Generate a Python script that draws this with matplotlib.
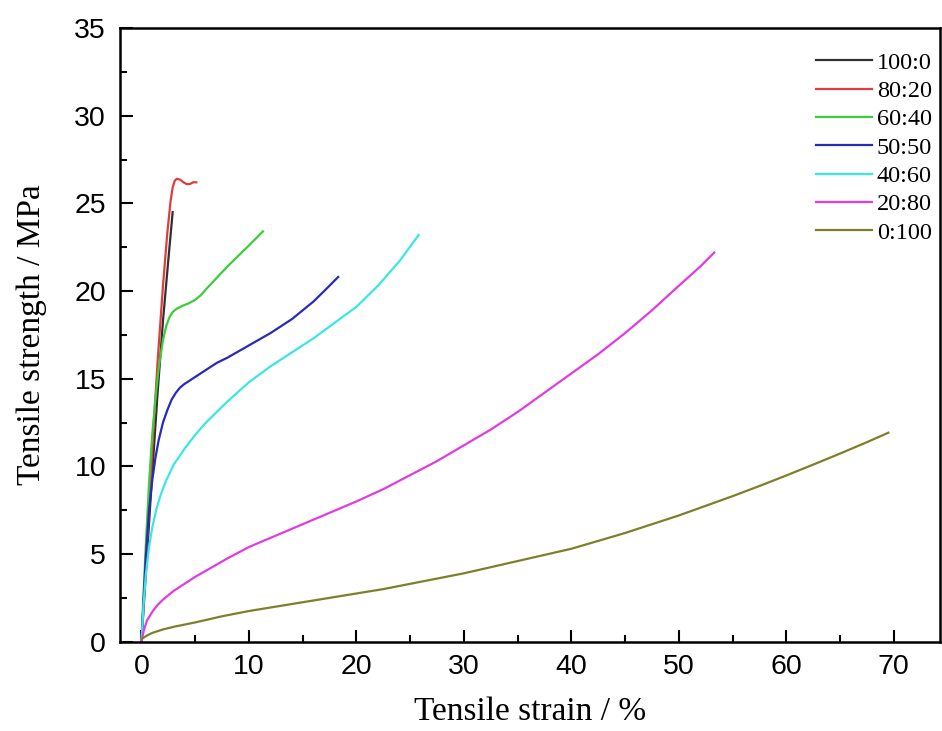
import matplotlib
matplotlib.use("Agg")
import matplotlib.pyplot as plt
from matplotlib.ticker import MultipleLocator

labels = ["100:0", "80:20", "60:40", "50:50", "40:60", "20:80", "0:100"]
colors = ["#303030", "#e03c3c", "#3ccc3c", "#2a2ab8", "#3ce6e6", "#e03ce0", "#7f7f2a"]

x_100_0 = [0, 0.5, 1, 1.5, 2, 2.5, 2.9]
y_100_0 = [0, 4.8, 9.6, 14.2, 18.3, 21.8, 24.5]

x_80_20 = [0, 0.5, 1, 1.5, 2, 2.4, 2.7, 2.9, 3.1, 3.3, 3.6, 3.9, 4.2, 4.5, 4.8, 5.1]
y_80_20 = [0, 5.5, 11, 16, 20.3, 23.3, 25.1, 25.9, 26.3, 26.4, 26.35, 26.2, 26.1, 26.1, 26.2, 26.2]

x_60_40 = [0, 0.2, 0.4, 0.7, 1, 1.3, 1.6, 2, 2.3, 2.6, 2.9, 3.3, 3.8, 4.4, 5, 5.5, 6, 7, 8, 9, 10, 11.3]
y_60_40 = [0, 2.8, 5.5, 9, 11.8, 13.9, 15.6, 17.2, 18, 18.5, 18.8, 19, 19.15, 19.3, 19.5, 19.75, 20.1, 20.75, 21.4, 22.0, 22.6, 23.4]

x_50_50 = [0, 0.2, 0.4, 0.7, 1, 1.3, 1.6, 2, 2.4, 2.8, 3.2, 3.6, 4, 4.5, 5, 6, 7, 8, 10, 12, 14, 16, 17, 18.3]
y_50_50 = [0, 2.5, 4.8, 7.5, 9.2, 10.5, 11.5, 12.5, 13.2, 13.8, 14.2, 14.5, 14.7, 14.9, 15.1, 15.5, 15.9, 16.2, 16.9, 17.6, 18.4, 19.4, 20, 20.8]

x_40_60 = [0, 0.2, 0.4, 0.7, 1, 1.4, 1.8, 2.3, 3, 4, 5, 6, 7, 8, 10, 12, 14, 16, 18, 20, 22, 24, 25.8]
y_40_60 = [0, 2.2, 3.8, 5.4, 6.5, 7.6, 8.4, 9.2, 10.1, 11, 11.8, 12.5, 13.1, 13.7, 14.8, 15.7, 16.5, 17.3, 18.2, 19.1, 20.3, 21.7, 23.2]

x_20_80 = [0, 0.2, 0.5, 1, 1.5, 2, 3, 4, 5, 6, 8, 10, 12.5, 15, 17.5, 20, 22.5, 25, 27.5, 30,
           32.5, 35, 37.5, 40, 42.5, 45, 47.5, 50, 52, 53.3]
y_20_80 = [0, 0.6, 1.2, 1.7, 2.1, 2.4, 2.9, 3.3, 3.7, 4.05, 4.75, 5.4, 6.05, 6.7, 7.35, 8.0, 8.7, 9.5, 10.3, 11.2,
           12.1, 13.1, 14.2, 15.3, 16.4, 17.6, 18.9, 20.3, 21.4, 22.2]

x_0_100 = [0, 0.5, 1, 2, 3, 5, 7.5, 10, 12.5, 15, 17.5, 20, 22.5, 25, 27.5, 30, 32.5, 35, 37.5, 40,
           42.5, 45, 47.5, 50, 52.5, 55, 57.5, 60, 62.5, 65, 67.5, 69.5]
y_0_100 = [0.15, 0.35, 0.5, 0.7, 0.85, 1.1, 1.45, 1.75, 2.0, 2.25, 2.5, 2.75, 3.0, 3.3, 3.6, 3.9,
           4.25, 4.6, 4.95, 5.3, 5.75, 6.2, 6.7, 7.2, 7.75, 8.3, 8.88, 9.48, 10.1, 10.73, 11.38, 11.92]

series = [(x_100_0, y_100_0), (x_80_20, y_80_20), (x_60_40, y_60_40), (x_50_50, y_50_50),
          (x_40_60, y_40_60), (x_20_80, y_20_80), (x_0_100, y_0_100)]

fig = plt.figure(figsize=(9.42, 7.31), dpi=100)
ax = fig.add_axes([120/942, 1 - 641.7/731, 820/942, (641.7-28)/731])

for (xs, ys), lab, c in zip(series, labels, colors):
    ax.plot(xs, ys, color=c, lw=1.6, label=lab, solid_joinstyle="round")

ax.set_xlim(-2, 74.3)
ax.set_ylim(0, 35)
ax.xaxis.set_major_locator(MultipleLocator(10))
ax.xaxis.set_minor_locator(MultipleLocator(5))
ax.yaxis.set_major_locator(MultipleLocator(5))
ax.yaxis.set_minor_locator(MultipleLocator(2.5))
ax.tick_params(which="both", direction="in", top=False, right=False, width=1.5)
ax.tick_params(which="major", length=9, labelsize=20.5)
ax.tick_params(axis="x", which="major", pad=9)
ax.tick_params(axis="y", which="major", pad=10)
ax.tick_params(which="minor", length=5)
for lbl in ax.get_xticklabels() + ax.get_yticklabels():
    lbl.set_fontfamily("Liberation Sans")
for s in ax.spines.values():
    s.set_linewidth(1.8)

ax.set_xlabel("Tensile strain / %", fontsize=24, family="Liberation Serif", labelpad=12)
ax.set_ylabel("Tensile strength / MPa", fontsize=24, family="Liberation Serif", labelpad=20)

leg = ax.legend(loc="upper right", frameon=False, prop={"family": "Liberation Serif", "size": 17.5},
                handlelength=2.3, handletextpad=0.2, labelspacing=0.26,
                bbox_to_anchor=(1.008, 0.985), borderaxespad=0.2)

fig.savefig("out.png", dpi=100)
